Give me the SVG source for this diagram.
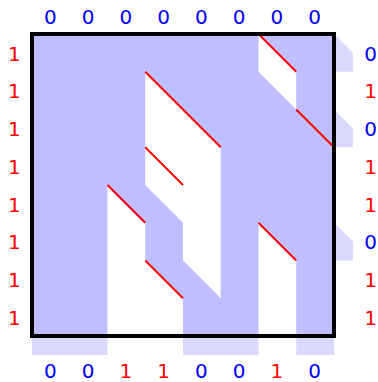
<svg xmlns="http://www.w3.org/2000/svg" width="378" height="382" viewBox="0 0 378 382">
<style>
.fill{fill:#bfbfff}
.ext{fill:#d9d9ff}
.hole{fill:#ffffff}
.red{stroke:#ff0000;stroke-width:2;fill:none}
.lab{font-family:"DejaVu Sans",sans-serif;font-size:20px;text-anchor:middle}
.one{fill:#ff0000}
.zero{fill:#0000ff}
</style>
<rect width="378" height="382" fill="#ffffff"/>
<g id="outside">
<polygon class="ext" points="334,34 352.9,52.9 352.9,71.75 334,71.75"/>
<polygon class="ext" points="334,109.5 352.9,128.4 352.9,147.25 334,147.25"/>
<polygon class="ext" points="334,222.75 352.9,241.6 352.9,260.5 334,260.5"/>
<rect class="ext" x="32" y="336" width="75.5" height="19"/>
<rect class="ext" x="183" y="336" width="75.5" height="19"/>
<rect class="ext" x="296.25" y="336" width="37.75" height="19"/>
</g>
<g id="grid">
<rect class="fill" x="32" y="34" width="302" height="302"/>
<polygon class="hole" points="258.5,34 296.25,71.75 296.25,109.5 258.5,71.75"/>
<polygon class="hole" points="145.25,71.75 220.75,147.25 220.75,298.25 183,260.5 183,222.75 145.25,185"/>
<polygon class="hole" points="107.5,185 145.25,222.75 145.25,260.5 183,298.25 183,336 107.5,336"/>
<polygon class="hole" points="258.5,222.75 296.25,260.5 296.25,336 258.5,336"/>
</g>
<g id="lines">
<line class="red" x1="258.5" y1="34" x2="296.25" y2="71.75"/>
<line class="red" x1="296.25" y1="109.5" x2="334" y2="147.25"/>
<line class="red" x1="145.25" y1="71.75" x2="220.75" y2="147.25"/>
<line class="red" x1="145.25" y1="147.25" x2="183" y2="185"/>
<line class="red" x1="107.5" y1="185" x2="145.25" y2="222.75"/>
<line class="red" x1="145.25" y1="260.5" x2="183" y2="298.25"/>
<line class="red" x1="258.5" y1="222.75" x2="296.25" y2="260.5"/>
</g>
<rect id="frame" x="32" y="34" width="302" height="302" fill="none" stroke="#000000" stroke-width="4"/>
<g id="top-labels" class="lab zero">
<text x="50.3" y="24">0</text><text x="88" y="24">0</text><text x="125.8" y="24">0</text><text x="163.5" y="24">0</text>
<text x="201.3" y="24">0</text><text x="239" y="24">0</text><text x="276.8" y="24">0</text><text x="314.5" y="24">0</text>
</g>
<g id="left-labels" class="lab one">
<text x="14.3" y="60.5">1</text><text x="14.3" y="98.2">1</text><text x="14.3" y="136">1</text><text x="14.3" y="173.7">1</text>
<text x="14.3" y="211.5">1</text><text x="14.3" y="249.2">1</text><text x="14.3" y="287">1</text><text x="14.3" y="324.7">1</text>
</g>
<g id="right-labels" class="lab">
<text class="zero" x="370.7" y="60.5">0</text><text class="one" x="370.7" y="98.2">1</text><text class="zero" x="370.7" y="136">0</text><text class="one" x="370.7" y="173.7">1</text>
<text class="one" x="370.7" y="211.5">1</text><text class="zero" x="370.7" y="249.2">0</text><text class="one" x="370.7" y="287">1</text><text class="one" x="370.7" y="324.7">1</text>
</g>
<g id="bottom-labels" class="lab">
<text class="zero" x="50.3" y="378">0</text><text class="zero" x="88" y="378">0</text><text class="one" x="125.8" y="378">1</text><text class="one" x="163.5" y="378">1</text>
<text class="zero" x="201.3" y="378">0</text><text class="zero" x="239" y="378">0</text><text class="one" x="276.8" y="378">1</text><text class="zero" x="314.5" y="378">0</text>
</g>
</svg>
